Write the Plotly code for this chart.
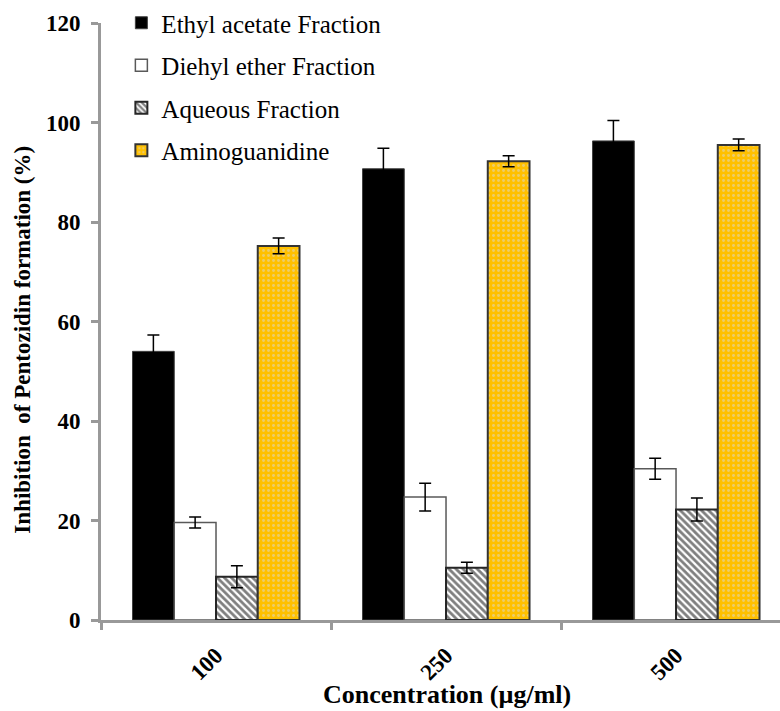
import plotly.graph_objects as go

categories = ["100", "250", "500"]
series_names = ["Ethyl acetate Fraction", "Diehyl ether Fraction", "Aqueous Fraction", "Aminoguanidine"]
ethyl = [54.0, 90.7, 96.3]
ethyl_err = [3.3, 4.1, 4.1]
diethyl = [19.6, 24.7, 30.4]
diethyl_err = [1.1, 2.8, 2.1]
aqueous = [8.7, 10.5, 22.2]
aqueous_err = [2.2, 1.1, 2.3]
amino = [75.2, 92.2, 95.5]
amino_err = [1.6, 1.1, 1.2]
y_ticks = [0, 20, 40, 60, 80, 100, 120]

FONT = "Liberation Serif"
fig = go.Figure()

def eb(vals, color):
    return dict(type="data", array=vals, visible=True, color=color, thickness=1.5, width=6)

fig.add_trace(go.Bar(
    x=categories, y=ethyl, name=series_names[0], legendgroup="a",
    marker=dict(color="#000000", line=dict(color="#404040", width=1)),
    error_y=eb(ethyl_err, "#000000")))
fig.add_trace(go.Bar(
    x=categories, y=diethyl, name=series_names[1], legendgroup="b",
    marker=dict(color="#ffffff", line=dict(color="#595959", width=1.5)),
    error_y=eb(diethyl_err, "#000000")))
fig.add_trace(go.Bar(
    x=categories, y=aqueous, name=series_names[2], legendgroup="c",
    marker=dict(color="#ffffff", line=dict(color="#262626", width=2),
                pattern=dict(shape="\\", fgcolor="#000000", bgcolor="#ffffff", size=5, solidity=0.55)),
    error_y=eb(aqueous_err, "#000000")))
fig.add_trace(go.Bar(
    x=categories, y=amino, name=series_names[3], legendgroup="d",
    marker=dict(color="#ffc000", line=dict(color="#333333", width=2),
                pattern=dict(shape=".", fgcolor="#d8d8d8", bgcolor="#ffc000", size=5, solidity=0.25)),
    error_y=eb(amino_err, "#000000")))

fig.update_layout(
    width=780, height=711,
    margin=dict(l=101, r=0, t=23, b=91, autoexpand=False),
    paper_bgcolor="white", plot_bgcolor="white",
    barmode="group", bargap=0.274, bargroupgap=0,
    font=dict(family=FONT, color="#000000"),
    legend=dict(x=0.03, y=1.008, xanchor="left", yanchor="top", yref="container",
                font=dict(family=FONT, size=25, color="#000000"),
                traceorder="grouped", tracegroupgap=7,
                bgcolor="rgba(0,0,0,0)"),
    xaxis=dict(
        type="category", range=[-0.5, 2.452], automargin=False,
        showline=True, linecolor="#999999", linewidth=3,
        ticks="outside", tickson="boundaries", ticklen=7, tickwidth=3, tickcolor="#999999",
        tickangle=-45, tickfont=dict(family=FONT, size=23, color="#000000", weight="bold"),
        ticklabelstandoff=10,
        showgrid=False, zeroline=False),
    yaxis=dict(
        range=[0, 120], tickvals=y_ticks, automargin=False,
        showline=True, linecolor="#999999", linewidth=3,
        ticks="outside", ticklen=7, tickwidth=3, tickcolor="#999999",
        tickfont=dict(family=FONT, size=23, color="#000000", weight="bold"),
        ticklabelstandoff=6,
        showgrid=False, zeroline=False),
)

fig.add_annotation(
    text="<b>Inhibition  of Pentozidin formation (%)</b>",
    xref="paper", yref="paper", x=-0.116, y=0.47, xanchor="center", yanchor="middle",
    textangle=-90, showarrow=False, font=dict(family=FONT, size=23, color="#000000"))

fig.add_annotation(
    text="<b>Concentration (µg/ml)</b>",
    xref="paper", yref="paper", x=0.51, y=-0.125, xanchor="center", yanchor="middle",
    showarrow=False, font=dict(family=FONT, size=26, color="#000000"))

fig.write_html("out.html", config={"displayModeBar": False},
               post_script="document.body.style.margin='0';")
